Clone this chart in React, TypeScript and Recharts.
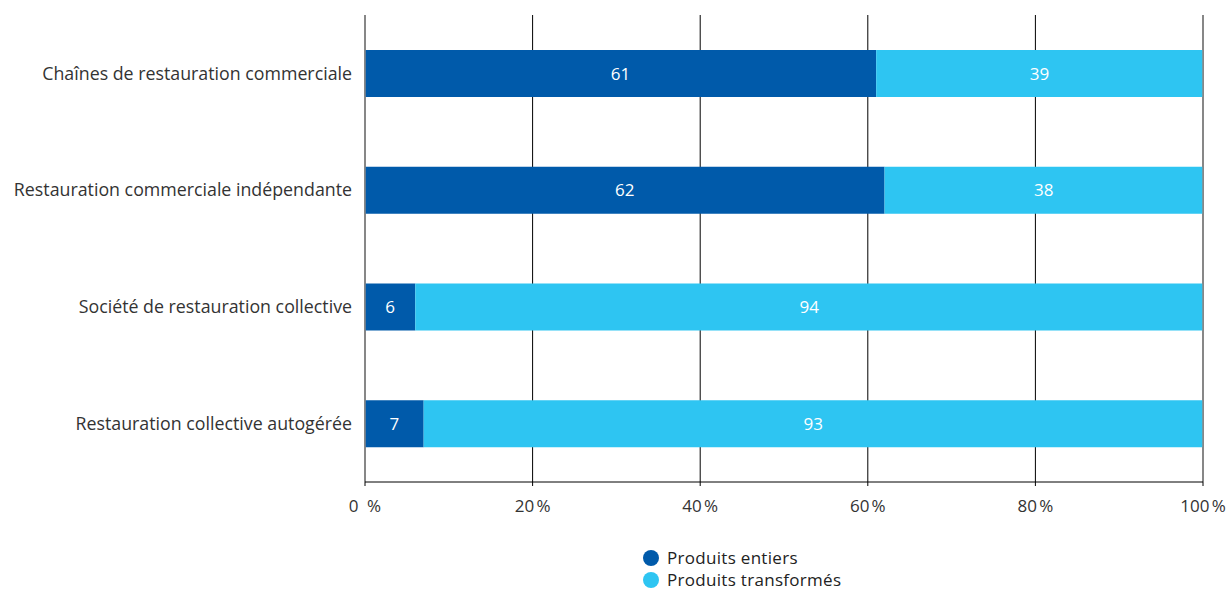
import { BarChart, Bar, XAxis, YAxis, CartesianGrid, Legend, LabelList, ReferenceLine } from 'recharts';

const categories = [
  'Chaînes de restauration commerciale',
  'Restauration commerciale indépendante',
  'Société de restauration collective',
  'Restauration collective autogérée',
];
const entiers = [61, 62, 6, 7];
const transformes = [39, 38, 94, 93];
const xTicks = [0, 20, 40, 60, 80, 100];

const DARK = '#005aaa';
const LIGHT = '#2ec5f2';
const FONT = '"Open Sans", sans-serif';

const data = categories.map((name, i) => ({ name, entiers: entiers[i], transformes: transformes[i] }));

const LegendBox = () => (
  <div style={{ paddingLeft: 643, paddingTop: 5, fontFamily: FONT, fontSize: 17, color: '#222', lineHeight: '22px' }}>
    {[
      { label: 'Produits entiers', color: DARK },
      { label: 'Produits transformés', color: LIGHT },
    ].map((it) => (
      <div key={it.label} style={{ display: 'flex', alignItems: 'center', height: 22 }}>
        <span style={{ width: 16, height: 16, borderRadius: 8, background: it.color, marginRight: 8, display: 'inline-block' }} />
        <span style={{ letterSpacing: 0.3 }}>{it.label}</span>
      </div>
    ))}
  </div>
);

export default function App() {
  return (
    <div style={{ position: 'absolute', left: 0, top: 0, width: 1231, height: 592, background: '#fff' }}>
      <BarChart
        width={1231}
        height={592}
        data={data}
        layout="vertical"
        margin={{ top: 15, right: 28, bottom: 0, left: 0 }}
        barCategoryGap="30%"
      >
        <CartesianGrid horizontal={false} stroke="#000" strokeWidth={1} />
        <XAxis
          type="number"
          domain={[0, 100]}
          ticks={xTicks}
          height={60}
          stroke="#000"
          tickSize={4}
          tickMargin={14}
          tick={{ fontFamily: FONT, fontSize: 17, fill: '#333' }}
          tickFormatter={(v: number) => (v === 0 ? '0\u2002%' : `${v}\u202f%`)}
          interval={0}
        />
        <YAxis
          type="category"
          dataKey="name"
          width={365}
          axisLine={false}
          tickLine={false}
          tickSize={0}
          tickMargin={13}
          tick={{ fontFamily: FONT, fontSize: 17.8, fill: '#333' }}
        />
        <ReferenceLine x={0} stroke="#8a8a8a" strokeWidth={1.5} />
        <ReferenceLine x={100} stroke="#8a8a8a" strokeWidth={1.5} />
        <Bar dataKey="entiers" stackId="a" fill={DARK} isAnimationActive={false}>
          <LabelList dataKey="entiers" position="center" fill="#fff" style={{ fontFamily: FONT, fontSize: 17 }} />
        </Bar>
        <Bar dataKey="transformes" stackId="a" fill={LIGHT} isAnimationActive={false}>
          <LabelList dataKey="transformes" position="center" fill="#fff" style={{ fontFamily: FONT, fontSize: 17 }} />
        </Bar>
        <Legend verticalAlign="bottom" height={50} content={() => <LegendBox />} />
      </BarChart>
    </div>
  );
}
